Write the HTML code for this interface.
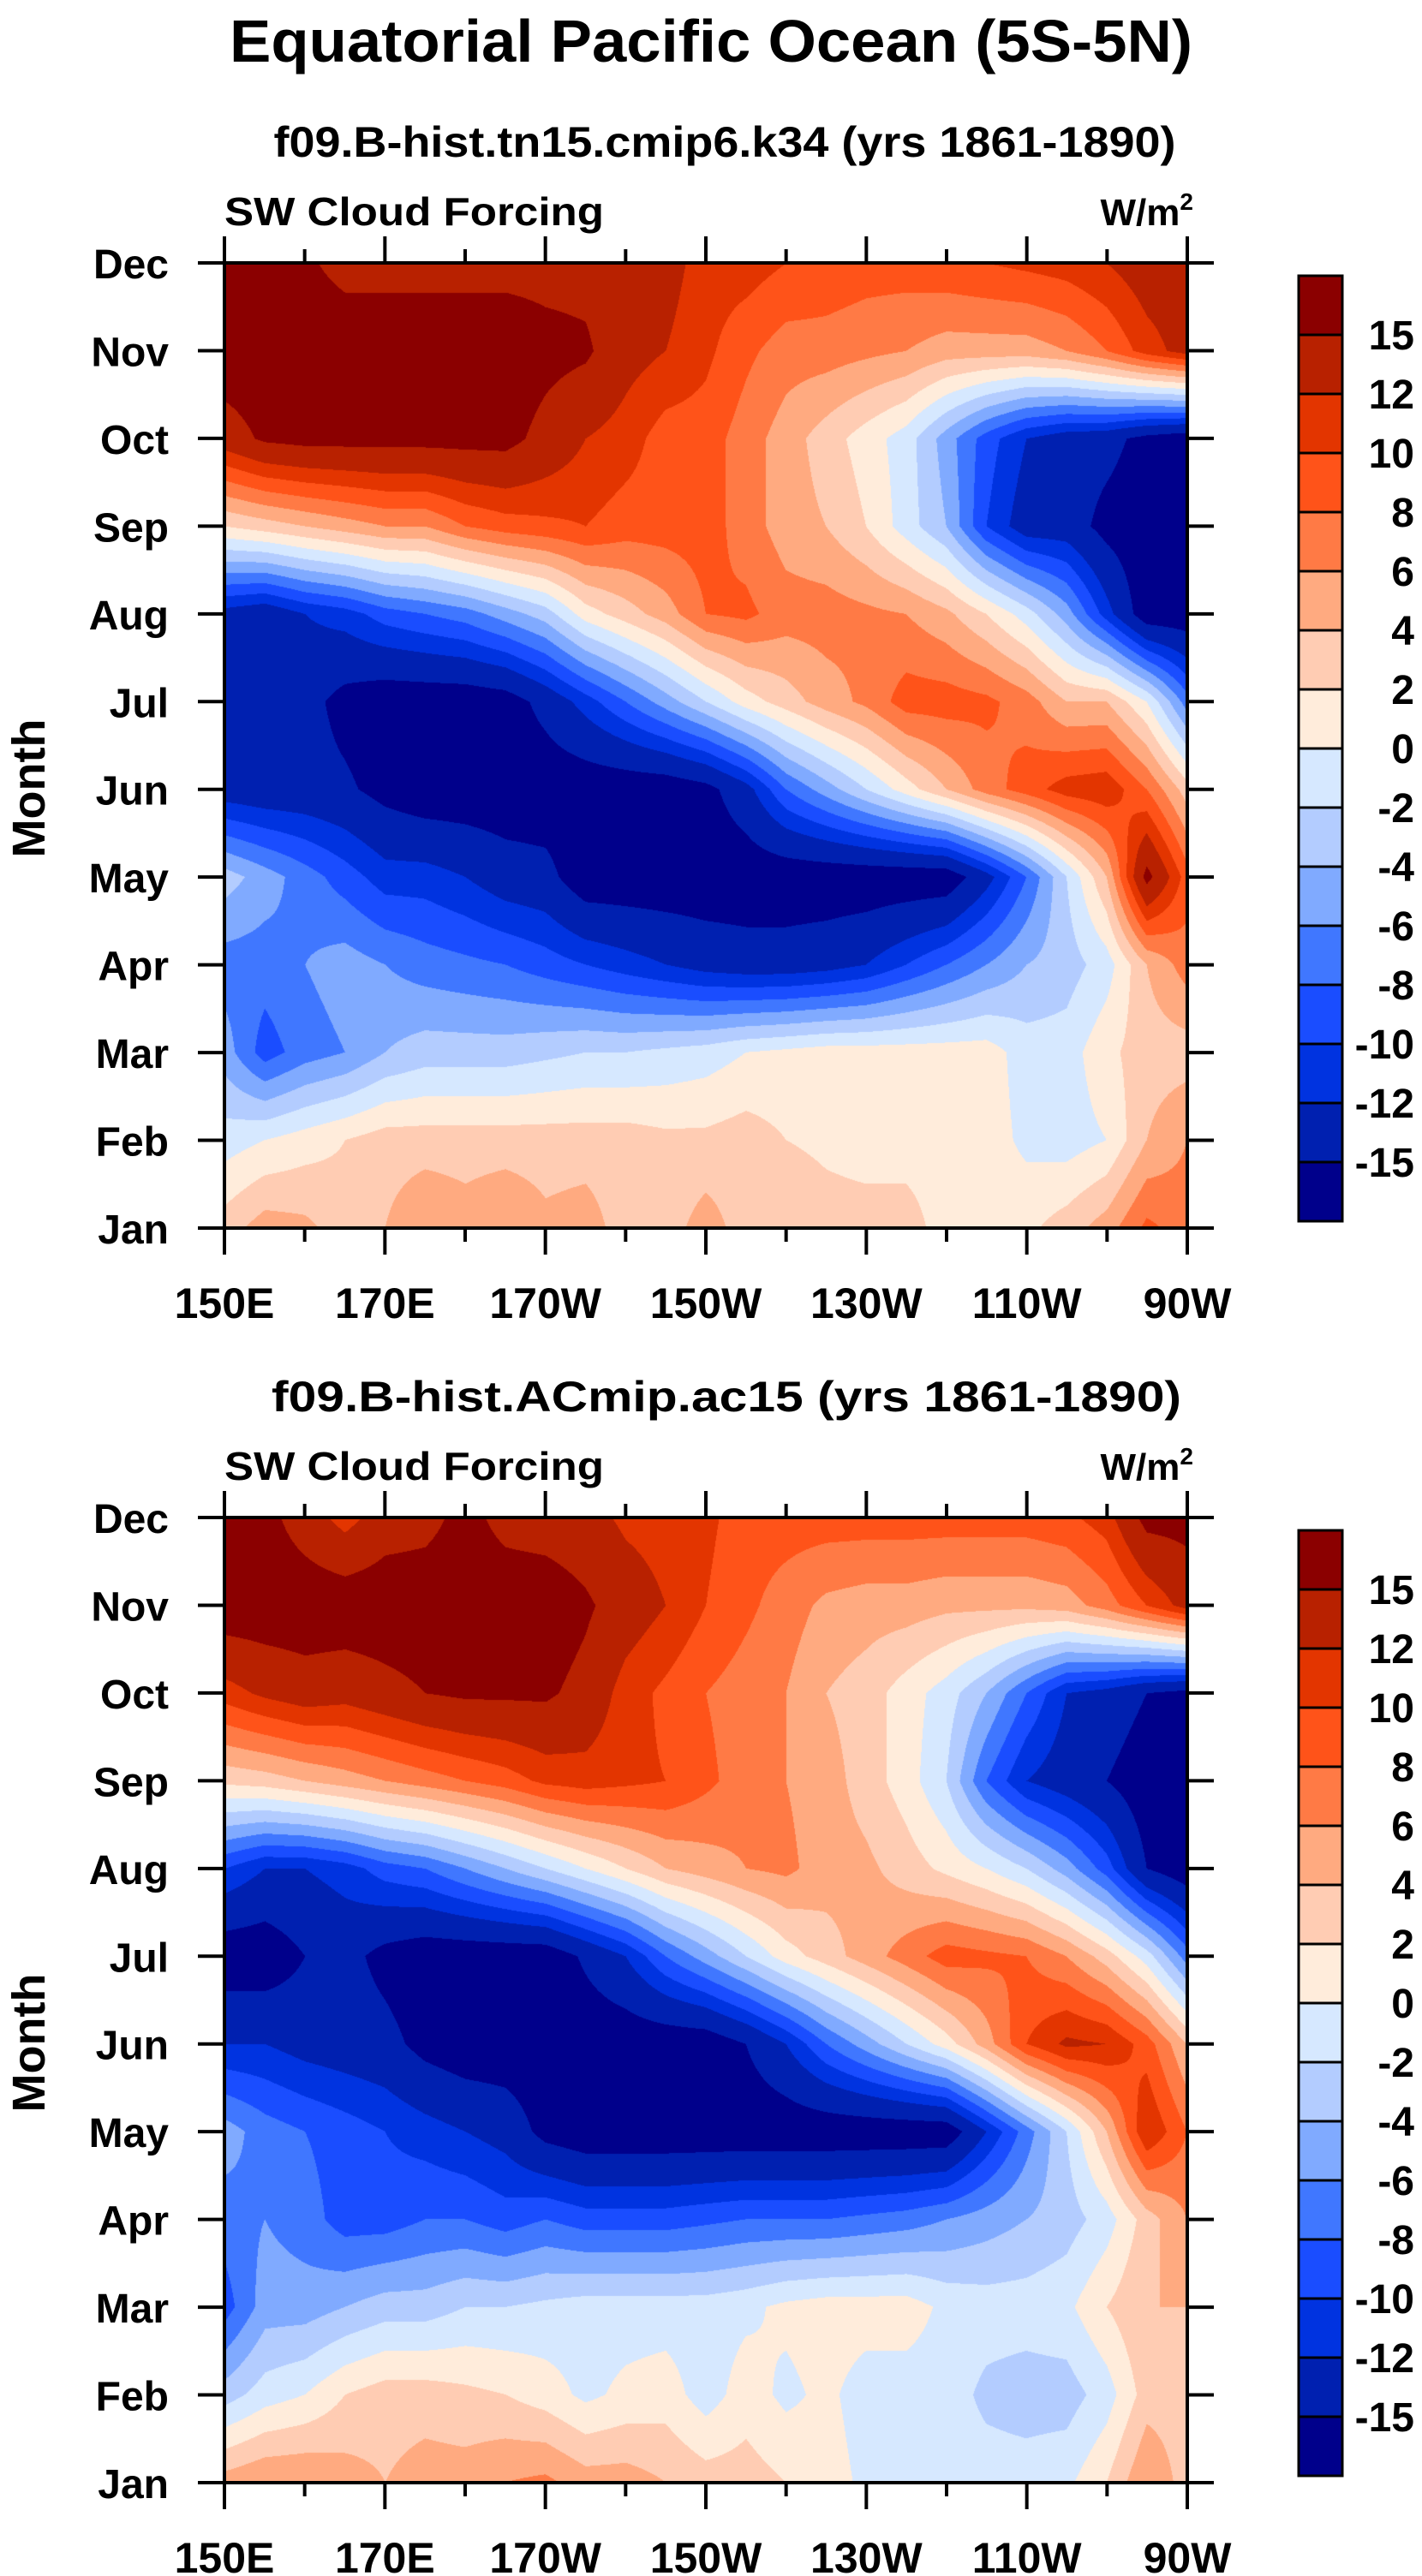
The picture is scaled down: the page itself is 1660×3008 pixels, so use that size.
<!DOCTYPE html>
<html>
<head>
<meta charset="utf-8">
<style>
  html,body{margin:0;padding:0;background:#fff;}
  #page{position:relative;width:1660px;height:3008px;overflow:hidden;background:#fff;}
  canvas{position:absolute;}
  svg{position:absolute;left:0;top:0;}
  text{font-family:"Liberation Sans",Arial,sans-serif;font-weight:bold;fill:#000;}
</style>
</head>
<body>
<div id="page">
  <canvas id="c1" width="1124" height="1127" style="left:262px;top:307px"></canvas>
  <canvas id="c2" width="1124" height="1127" style="left:262px;top:1772px"></canvas>
  <svg id="ov" width="1660" height="3008"></svg>
</div>
<script>
// ---- data ----
const lonValues = [150,155,160,165,170,175,180,185,190,195,200,205,210,215,220,225,230,235,240,245,250,255,260,265,270];
const monthNames = ["Jan","Feb","Mar","Apr","May","Jun","Jul","Aug","Sep","Oct","Nov","Dec"];
const xTickLons = [150,170,190,210,230,250,270];
const xTickLabels = ["150E","170E","170W","150W","130W","110W","90W"];
const levels = [-15,-12,-10,-8,-6,-4,-2,0,2,4,6,8,10,12,15];
const levelColors = ["#00008b","#0020b0","#0033e0","#1a4dff","#4077ff","#80aaff","#b3ccff","#d6e8ff",
                     "#ffecdb","#ffccb3","#ffaa80","#ff7a45","#ff5319","#e33500","#b82100","#8b0000"];
// panel 1 : f09.B-hist.tn15.cmip6.k34, rows Jan..Dec
const panel1Values = [
 [3,5,4.5,3,4,6,5,6,4.5,5,3,3,5,3,4,3,3,3,1,1,1.5,3,5,8.5,7],
 [-1,0,1,2,3,3,3,3,3,3,3,2.5,2.5,3,2,1.5,1,1,1,1,-0.5,-1,0,4,6],
 [-5,-9,-7,-6,-4,-3,-3,-3,-2.5,-2,-2,-1.5,-1,0,0.5,1,1,1,1,1,-1,-1,1.5,3,3],
 [-7,-7,-6,-5,-6,-7,-7.5,-8,-9,-10,-11,-12,-13,-13.5,-13.5,-13,-12,-10,-8,-6,-4,-3,-1,4,7],
 [-3,-5,-7,-9,-11,-11,-12,-13.5,-14,-17,-17,-17,-17,-17,-17,-17,-17,-17,-17,-13,-8,-2,4,16,9],
 [-13.5,-14,-14,-14.5,-16,-17,-17,-17,-17,-17,-17,-17,-16,-13,-8,-5,-2,1,4,7,9,11,11.5,8,3],
 [-14,-13.5,-14,-16,-17,-17,-17,-16.5,-14,-11,-8,-5,-2,1,3,5,6.5,9,9,8.5,7,4,4,0,-7],
 [-13,-14,-12,-11,-9,-8,-7,-5,-3,1,3,5,8,8.5,7,7,6.5,6,4.5,2,-1,-5,-11,-17,-17],
 [2,3,4,5,6,6,8,9,9.5,10,9,9,9,7,5,4,2,-1,-4,-10,-13.5,-13.5,-16,-17,-17],
 [13.5,15.5,16,16,16,16,16,16,14,12,11,9,9,7,5,3,1,-1,-5,-9,-12,-13.5,-14,-16,-17],
 [17,17,17,17,17,17,17,17,16,15.5,13,12,10.5,8.5,7,7,6.5,6,5,5,5,6,8,11,13],
 [16,16,15.5,14,14,14,14,14,14,14,13.5,13,11,11,10,9.5,9,9,9.5,10,10.5,11,12,13.5,13.5]
];
// panel 2 : f09.B-hist.ACmip.ac15, rows Jan..Dec
const panel2Values = [
 [5,6,6,5,4,5,5,6,6.5,5,5,4,3,3,2,1,-0.5,-1,-1,-1,-1,-0.5,2,6,3],
 [-3,-1,0,2,3,3,2.5,2,1,-0.5,0.5,1,-1,1,-0.5,0.5,-1,-1,-1,-2.5,-3,-3,-1,3,3],
 [-9,-5,-5,-4,-3,-3,-2,-2,-1.5,-1,-1,-1,-1,-0.5,0.5,1,1,1,-0.5,-1,-1,-0.5,2,4,4],
 [-7,-6,-7,-9,-9,-8,-8,-9,-8,-9,-9,-9,-8.5,-8,-8,-8,-7.5,-7,-6,-5,-4,-3,-1,3,6],
 [-5,-7,-8,-9,-10,-11,-12,-13,-16,-17,-17,-17,-17,-17,-17,-17,-17,-17,-17,-12,-7,-2,4,12,8],
 [-12,-12,-13,-13.5,-14,-16,-17,-17,-17,-17,-17,-17,-17,-15,-12,-8,-5,-2,1,5,10,12.5,12,9,4],
 [-17,-17,-15,-14,-16,-17,-17,-17,-17,-14.5,-12,-8,-5,-2,1,3,5,7,9,8.5,8,6,3,-1,-7],
 [-10,-12,-12,-11,-9,-8,-6,-4,-2,0,2,4,5,6,6.5,5,4.5,3,1.5,0,-2,-5,-9,-15,-17],
 [2.5,3,4,5,6,7,8,9,10.5,11,10.5,10,8.5,7,6,5,3,1,-2,-8,-12,-13.5,-15,-17,-17],
 [11,12.5,13.5,13,14,15,15.5,15.5,15.5,14,11,9.5,8,7,6,4,3,1,-1,-4,-8,-12,-13,-15,-16],
 [17,17,17,17,17,17,17,17,17,15.5,13.5,12,10,8.5,7,5.5,5,5,4.5,4.5,4.5,5,7,10,13],
 [16,16,13.5,11,13.5,14,16,14,13.5,13,11.5,11,10.5,9,9,9,9,9,9,9,9,9.5,11,16,16]
];

// ---- geometry ----
const PL = 262, PR = 1386, PW = 1124, PH = 1127;
const panelTops = [307, 1772];
function xScale(lon){ return PL + (lon - 150) / 120 * PW; }
function yScale(m, top){ return top + PH - m / 11 * PH; } // m: 0=Jan..11=Dec

function hexToRgb(h){ return [parseInt(h.slice(1,3),16),parseInt(h.slice(3,5),16),parseInt(h.slice(5,7),16)]; }

function drawField(canvas, grid){
  const ctx = canvas.getContext('2d');
  const img = ctx.createImageData(PW, PH);
  const nC = lonValues.length, nR = monthNames.length;
  const rgbCache = levelColors.map(hexToRgb);
  for (let py = 0; py < PH; py++){
    const m = (PH - 1 - py) / (PH - 1) * (nR - 1);
    const r0 = Math.min(Math.floor(m), nR - 2), fr = m - r0;
    for (let px = 0; px < PW; px++){
      const lon = 150 + px / (PW - 1) * 120;
      const cf = (lon - lonValues[0]) / (lonValues[1] - lonValues[0]);
      const c0 = Math.min(Math.floor(cf), nC - 2), fc = cf - c0;
      const v = (grid[r0][c0]*(1-fc) + grid[r0][c0+1]*fc)*(1-fr) + (grid[r0+1][c0]*(1-fc) + grid[r0+1][c0+1]*fc)*fr;
      let i = 0; while (i < levels.length && v >= levels[i]) i++;
      const c = rgbCache[i], k = (py*PW + px)*4;
      img.data[k]=c[0]; img.data[k+1]=c[1]; img.data[k+2]=c[2]; img.data[k+3]=255;
    }
  }
  ctx.putImageData(img, 0, 0);
}
drawField(document.getElementById('c1'), panel1Values);
drawField(document.getElementById('c2'), panel2Values);

// ---- overlay ----
const NS = "http://www.w3.org/2000/svg";
const ov = document.getElementById('ov');
function mk(tag, attrs, parent){
  const e = document.createElementNS(NS, tag);
  for (const k in attrs) e.setAttribute(k, attrs[k]);
  (parent || ov).appendChild(e);
  return e;
}
function txt(s, attrs, parent){ const t = mk('text', attrs, parent); t.textContent = s; return t; }

const title = txt("Equatorial Pacific Ocean (5S-5N)", {x:830, y:72, 'font-size':70, 'text-anchor':'middle', textLength:1124, lengthAdjust:'spacingAndGlyphs'});



const subtitles = ["f09.B-hist.tn15.cmip6.k34 (yrs 1861-1890)", "f09.B-hist.ACmip.ac15 (yrs 1861-1890)"];
const subWidths = [1053, 1062];
const subX = [846, 848];

panelTops.forEach((top, p) => {
  const g = mk('g', {});
  
  
  const bottom = top + PH;

  const st = txt(subtitles[p], {x:subX[p], y:top-124, 'font-size':50, 'text-anchor':'middle', textLength:subWidths[p], lengthAdjust:'spacingAndGlyphs'}, g);
  
  

  const lt = txt("SW Cloud Forcing", {x:PL, y:top-44, 'font-size':46, textLength:443, lengthAdjust:'spacingAndGlyphs'}, g);
  
  

  const ut = mk('text', {x:1393, y:top-44, 'font-size':44, 'text-anchor':'end'}, g);
  
  
  const t1 = mk('tspan', {}, ut); t1.textContent = "W/m";
  const t2 = mk('tspan', {dy:-18, 'font-size':28}, ut); t2.textContent = "2";

  const fr = mk('rect', {x:PL, y:top, width:PW, height:PH, fill:'none', stroke:'#000', 'stroke-width':4}, g);
  
  

  for (let lon = 150; lon <= 270; lon += 10){
    const major = xTickLons.indexOf(lon) >= 0;
    const x = xScale(lon);
    const len = major ? 31 : 16;
    const tt = mk('line', {x1:x, y1:top, x2:x, y2:top-len, stroke:'#000', 'stroke-width':4}, g);
    
    
    const tb = mk('line', {x1:x, y1:bottom, x2:x, y2:bottom+len, stroke:'#000', 'stroke-width':4}, g);
    
    
  }
  xTickLons.forEach((lon, i) => {
    const xl = txt(xTickLabels[i], {x:xScale(lon), y:bottom+105, 'font-size':50, 'text-anchor':'middle'}, g);
    
    
  });

  monthNames.forEach((mn, m) => {
    const y = yScale(m, top);
    const tl = mk('line', {x1:PL, y1:y, x2:PL-31, y2:y, stroke:'#000', 'stroke-width':4}, g);
    
    
    const tr = mk('line', {x1:PR, y1:y, x2:PR+31, y2:y, stroke:'#000', 'stroke-width':4}, g);
    
    
    const yl = txt(mn, {x:197, y:y+18, 'font-size':48, 'text-anchor':'end'}, g);
    
    
  });

  const yt = txt("Month", {x:0, y:0, 'font-size':54, 'text-anchor':'middle', transform:'translate(52,' + (top + PH/2 + 50) + ') rotate(-90)'}, g);
  
  

  const cb = mk('g', {}, g);
  
  
  const cbTop = top + 15, boxH = 69, cbX = 1516, cbW = 51;
  for (let i = 0; i < levelColors.length; i++){
    const colorIdx = levelColors.length - 1 - i;
    const r = mk('rect', {x:cbX, y:cbTop + i*boxH, width:cbW, height:boxH, fill:levelColors[colorIdx], stroke:'#000', 'stroke-width':3}, cb);
    
    
  }
  for (let i = 0; i < levels.length; i++){
    const lv = levels[levels.length - 1 - i];
    const y = cbTop + (i+1)*boxH;
    const lb = txt(String(lv), {x:1651, y:y+17, 'font-size':48, 'text-anchor':'end'}, cb);
    
    
  }
});
</script>
</body>
</html>
